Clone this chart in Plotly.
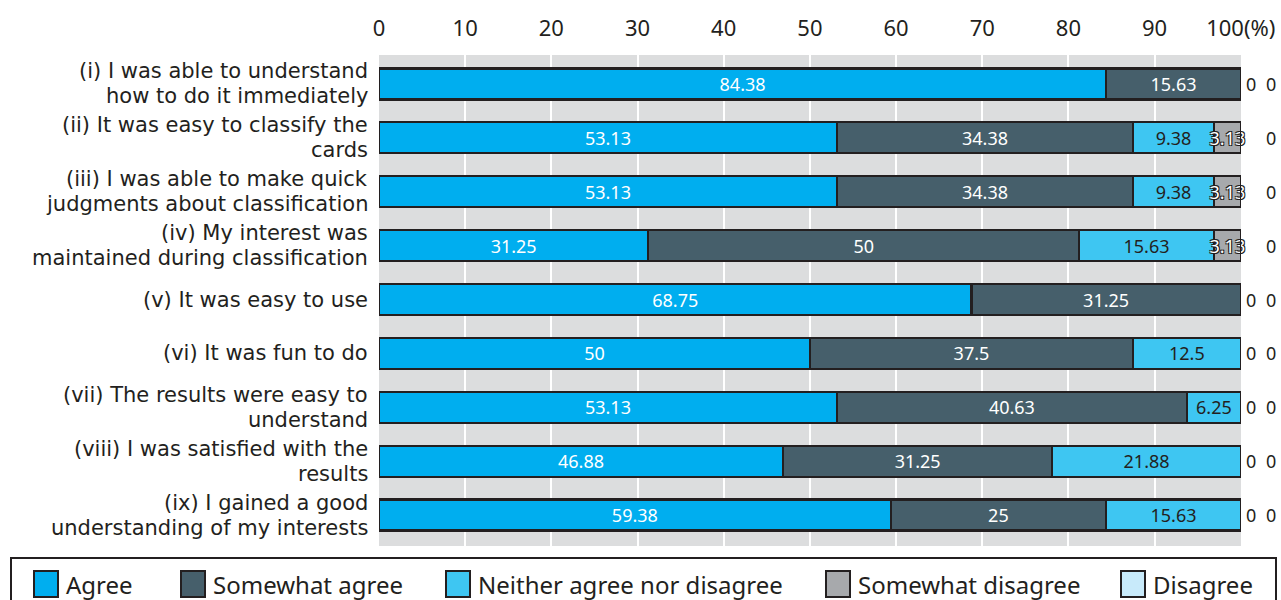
import plotly.graph_objects as go

categories = [
    "(i) I was able to understand<br>how to do it immediately",
    "(ii) It was easy to classify the<br>cards",
    "(iii) I was able to make quick<br>judgments about classification",
    "(iv) My interest was<br>maintained during classification",
    "(v) It was easy to use",
    "(vi) It was fun to do",
    "(vii) The results were easy to<br>understand",
    "(viii) I was satisfied with the<br>results",
    "(ix) I gained a good<br>understanding of my interests",
]
series_names = ["Agree", "Somewhat agree", "Neither agree nor disagree", "Somewhat disagree", "Disagree"]
agree = [84.38, 53.13, 53.13, 31.25, 68.75, 50, 53.13, 46.88, 59.38]
somewhat_agree = [15.63, 34.38, 34.38, 50, 31.25, 37.5, 40.63, 31.25, 25]
neither = [0, 9.38, 9.38, 15.63, 0, 12.5, 6.25, 21.88, 15.63]
somewhat_disagree = [0, 3.13, 3.13, 3.13, 0, 0, 0, 0, 0]
disagree = [0, 0, 0, 0, 0, 0, 0, 0, 0]
tick_vals = [0, 10, 20, 30, 40, 50, 60, 70, 80, 90, 100]
tick_text = ["0", "10", "20", "30", "40", "50", "60", "70", "80", "90", "100(%)"]

values = [agree, somewhat_agree, neither, somewhat_disagree, disagree]
colors = ["#00AEEF", "#465F6B", "#3EC6F2", "#A7A9AC", "#C8EAFA"]
text_colors = ["#FFFFFF", "#FFFFFF", "#231F20", "#FFFFFF", "#231F20"]
FONT = "Noto Sans"
LABEL_FONT = "DejaVu Sans"
DARK = "#231F20"

fig = go.Figure()
for name, vals, col, tcol in zip(series_names, values, colors, text_colors):
    txt = ["" if v == 0 else f"{v:g}" for v in vals]
    shadow = "none"
    if name == "Somewhat disagree":
        shadow = "1px 1px 0 #231F20, -1px -1px 0 #231F20, 1px -1px 0 #231F20, -1px 1px 0 #231F20"
    fig.add_trace(go.Bar(
        name=name, y=categories, x=vals, orientation="h",
        marker=dict(color=col, line=dict(color=DARK, width=2.2)),
        width=0.575,
        text=txt, textposition="inside", insidetextanchor="middle", textangle=0,
        constraintext="none", cliponaxis=False,
        textfont=dict(family=FONT, size=18, color=tcol, shadow=shadow),
        showlegend=False, hoverinfo="x+name",
    ))

# category labels: one annotation per line, tight line spacing like the original
LINE_GAP = 25
for cat in categories:
    lines = cat.split("<br>")
    n = len(lines)
    for j, line in enumerate(lines):
        fig.add_annotation(x=0, y=cat, xref="paper", yref="y", text=line,
                           showarrow=False, xanchor="right", yanchor="middle",
                           xshift=-10, yshift=(n - 1) * LINE_GAP / 2 - j * LINE_GAP, borderpad=0,
                           font=dict(family=LABEL_FONT, size=21, color=DARK))

# zero-value labels to the right of the bars
for i, cat in enumerate(categories):
    for vals, shift in ((somewhat_disagree, 10), (disagree, 30)):
        if vals[i] == 0:
            fig.add_annotation(x=100, y=cat, xref="x", yref="y", text="0",
                               showarrow=False, xanchor="center", xshift=shift,
                               font=dict(family=FONT, size=18, color=DARK))

# legend drawn manually (box + swatches + labels), positioned in pixels -> paper
L, R, T, B = 379, 1241, 55, 546
W, H = R - L, B - T
px = lambda v: (v - L) / W
py = lambda v: (B - v) / H

fig.add_shape(type="rect", xref="paper", yref="paper",
              x0=px(11), x1=px(1276), y0=py(558), y1=py(612),
              line=dict(color=DARK, width=2), fillcolor="rgba(0,0,0,0)", layer="above")
legend_x = [34, 181, 446, 826, 1121]
for name, col, lx in zip(series_names, colors, legend_x):
    fig.add_shape(type="rect", xref="paper", yref="paper",
                  x0=px(lx), x1=px(lx + 24), y0=py(571), y1=py(597),
                  line=dict(color=DARK, width=2), fillcolor=col, layer="above")
    fig.add_annotation(x=px(lx + 30), y=py(584), xref="paper", yref="paper",
                       text=name, showarrow=False, xanchor="left", yanchor="middle",
                       font=dict(family=FONT, size=24, color=DARK))

fig.update_layout(
    barmode="stack",
    width=1281, height=600,
    margin=dict(l=L, r=1281 - R, t=T, b=600 - B, pad=0, autoexpand=False),
    paper_bgcolor="white", plot_bgcolor="#DCDDDE",
    font=dict(family=FONT, color=DARK),
    xaxis=dict(side="top", range=[0, 100.03], tickvals=tick_vals, ticktext=tick_text,
               showgrid=True, gridcolor="white", gridwidth=2, zeroline=False, automargin=False,
               showline=False, ticks="", tickfont=dict(size=22, color=DARK), ticklabelstandoff=14),
    yaxis=dict(range=[8.575, -0.538], showgrid=False, zeroline=False, showline=False, automargin=False,
               showticklabels=False, ticks=""),
)

fig.write_html("out.html")
